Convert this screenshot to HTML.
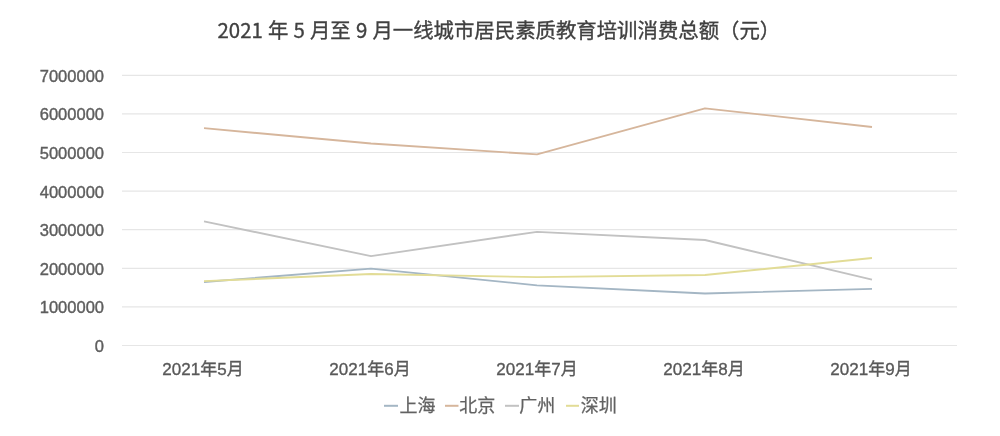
<!DOCTYPE html>
<html lang="zh">
<head>
<meta charset="utf-8">
<title>2021 年 5 月至 9 月一线城市居民素质教育培训消费总额（元）</title>
<style>
html,body{margin:0;padding:0;background:#fff;}
body{width:1000px;height:436px;overflow:hidden;position:relative;}
svg{position:absolute;left:0;top:0;display:block;}
.t{font-family:"Noto Sans CJK SC","Liberation Sans",sans-serif;font-size:20.4px;fill:#404040;stroke:#404040;stroke-width:0.35px;word-spacing:0.6px;}
.y{font-family:"Liberation Sans","Noto Sans CJK SC",sans-serif;font-size:16.5px;fill:#5e5e5e;stroke:#5e5e5e;stroke-width:0.4px;text-anchor:end;}
.x{font-family:"Liberation Sans","Noto Sans CJK SC",sans-serif;font-size:17px;fill:#595959;stroke:#595959;stroke-width:0.35px;text-anchor:middle;}
.l{font-family:"Liberation Sans","Noto Sans CJK SC",sans-serif;font-size:18px;fill:#626262;stroke:#626262;stroke-width:0.25px;}
.g{stroke:#e6e6e6;stroke-width:1.2;}
.s{fill:none;stroke-width:1.85;stroke-linejoin:round;stroke-linecap:butt;}
</style>
</head>
<body>
<svg width="1000" height="436" viewBox="0 0 1000 436">
  <text class="t" x="217.5" y="38">2021 年 5 月至 9 月一线城市居民素质教育培训消费总额（元）</text>

  <g class="g">
    <line x1="122" y1="75.3" x2="957" y2="75.3"/>
    <line x1="122" y1="113.9" x2="957" y2="113.9"/>
    <line x1="122" y1="152.5" x2="957" y2="152.5"/>
    <line x1="122" y1="191.1" x2="957" y2="191.1"/>
    <line x1="122" y1="229.7" x2="957" y2="229.7"/>
    <line x1="122" y1="268.3" x2="957" y2="268.3"/>
    <line x1="122" y1="306.9" x2="957" y2="306.9"/>
    <line x1="122" y1="345.5" x2="957" y2="345.5"/>
  </g>

  <g class="y">
    <text x="104" y="81.8">7000000</text>
    <text x="104" y="120.4">6000000</text>
    <text x="104" y="159.0">5000000</text>
    <text x="104" y="197.6">4000000</text>
    <text x="104" y="236.2">3000000</text>
    <text x="104" y="274.8">2000000</text>
    <text x="104" y="313.4">1000000</text>
    <text x="104" y="352.0">0</text>
  </g>

  <g class="x">
    <text x="203" y="375">2021年5月</text>
    <text x="370" y="375">2021年6月</text>
    <text x="537" y="375">2021年7月</text>
    <text x="704" y="375">2021年8月</text>
    <text x="871" y="375">2021年9月</text>
  </g>

  <polyline class="s" stroke="#d6b69c" points="204,128.2 371,143.5 537,154.4 705,108.3 872,127"/>
  <polyline class="s" stroke="#c2c2c2" points="204,221.4 371,256.1 537,231.8 705,240 872,279.6"/>
  <polyline class="s" stroke="#a4b6c4" points="204,282 371,268.7 537,285.3 705,293.5 872,288.8"/>
  <polyline class="s" stroke="#e2dc96" points="204,281.2 371,274 537,277.2 705,275 872,258"/>

  <g>
    <line x1="384" y1="405.8" x2="398" y2="405.8" stroke="#a4b6c4" stroke-width="2"/>
    <text class="l" x="399.5" y="411.5">上海</text>
    <line x1="445" y1="405.8" x2="458.5" y2="405.8" stroke="#d6b69c" stroke-width="2"/>
    <text class="l" x="459.3" y="411.5">北京</text>
    <line x1="505" y1="405.8" x2="519" y2="405.8" stroke="#c2c2c2" stroke-width="2"/>
    <text class="l" x="519.3" y="411.5">广州</text>
    <line x1="566" y1="405.8" x2="579" y2="405.8" stroke="#e2dc96" stroke-width="2"/>
    <text class="l" x="580.8" y="411.5">深圳</text>
  </g>
</svg>
</body>
</html>
